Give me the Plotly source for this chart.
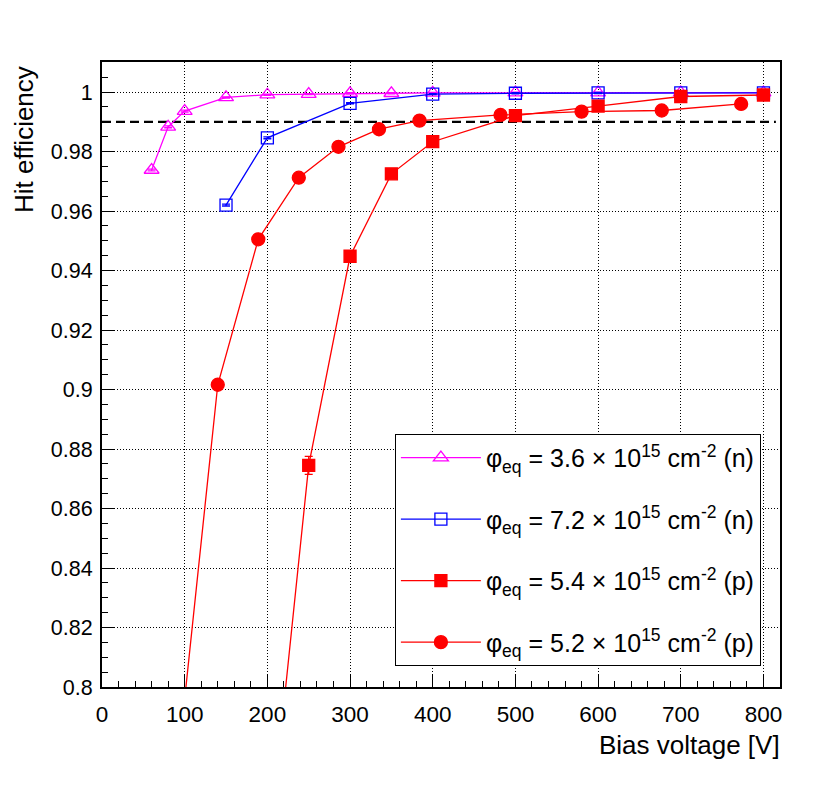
import plotly.graph_objects as go

# ---- data ----
v_n36 = [60, 80, 100, 150, 200, 250, 300, 350, 400, 500, 600, 700, 800]
e_n36 = [0.9738, 0.9883, 0.9936, 0.9982, 0.9991, 0.9993, 0.9996, 0.9996, 0.9997, 0.9998, 0.9998, 0.9998, 0.9998]
err_n36 = [0.0003, 0.0003, 0.0003, 0.0002, 0.0002, 0.0002, 0.0002, 0.0002, 0.0002, 0.0002, 0.0002, 0.0002, 0.0002]

v_n72 = [150, 200, 300, 400, 500, 600, 700, 800]
e_n72 = [0.9620, 0.9846, 0.9962, 0.9993, 0.9996, 0.9997, 0.9997, 0.9997]
err_n72 = [0.0003, 0.0003, 0.0002, 0.0002, 0.0002, 0.0002, 0.0002, 0.0002]

v_p54 = [200, 250, 300, 350, 400, 500, 600, 700, 800]
e_p54 = [0.7407, 0.8745, 0.9448, 0.9725, 0.9833, 0.9921, 0.9953, 0.9985, 0.9990]
err_p54 = [0.003, 0.003, 0.0015, 0.001, 0.001, 0.0005, 0.0005, 0.0005, 0.0005]

v_p52 = [91, 140, 189, 238, 286, 335, 384, 482, 580, 677, 773]
e_p52 = [0.7723, 0.9016, 0.9505, 0.9712, 0.9816, 0.9875, 0.9904, 0.9923, 0.9934, 0.9938, 0.9960]
err_p52 = [0.002, 0.0015, 0.001, 0.001, 0.0005, 0.0005, 0.0005, 0.0005, 0.0005, 0.0005, 0.0005]

threshold_x = [0, 815]
threshold_y = [0.99, 0.99]

labels = [
    "φ<sub>eq</sub> = 3.6 × 10<sup>15</sup> cm<sup>-2</sup> (n)",
    "φ<sub>eq</sub> = 7.2 × 10<sup>15</sup> cm<sup>-2</sup> (n)",
    "φ<sub>eq</sub> = 5.4 × 10<sup>15</sup> cm<sup>-2</sup> (p)",
    "φ<sub>eq</sub> = 5.2 × 10<sup>15</sup> cm<sup>-2</sup> (p)",
]

FONT = "Liberation Sans, Arial, Helvetica, sans-serif"

fig = go.Figure()

fig.add_trace(go.Scatter(
    x=threshold_x, y=threshold_y, mode="lines", showlegend=False,
    line=dict(color="black", width=2.2, dash="9px,5px"), hoverinfo="skip"))

series = [
    (v_n36, e_n36, err_n36, "#FF00FF", "triangle-up-open", 13),
    (v_n72, e_n72, err_n72, "#0000FF", "square-open", 12),
    (v_p54, e_p54, err_p54, "#FF0000", "square", 12),
    (v_p52, e_p52, err_p52, "#FF0000", "circle", 13),
]
for i, (vx, vy, ve, col, sym, sz) in enumerate(series):
    fig.add_trace(go.Scatter(
        x=vx, y=vy, mode="lines+markers", name=labels[i], legendgroup=f"g{i}",
        line=dict(color=col, width=1.3),
        marker=dict(symbol=sym, size=sz, color=col, line=dict(color=col, width=1.3)),
        error_y=dict(type="data", array=ve, color=col, thickness=1.3, width=4),
        cliponaxis=True,
    ))

fig.update_layout(
    width=822, height=790,
    margin=dict(l=94, r=50, t=54, b=111),
    paper_bgcolor="white", plot_bgcolor="white",
    font=dict(family=FONT, size=22, color="black"),
    showlegend=True,
    legend=dict(
        x=0.432, y=0.405, xanchor="left", yanchor="top",
        bordercolor="black", borderwidth=1, bgcolor="white",
        font=dict(family=FONT, size=25, color="black"),
        itemwidth=80, tracegroupgap=26,
    ),
    xaxis=dict(
        range=[0, 820], dtick=100, tick0=0,
        ticks="inside", ticklen=12, tickwidth=1, tickcolor="black",
        minor=dict(dtick=20, ticks="inside", ticklen=6, tickcolor="black", showgrid=False),
        showgrid=True, gridcolor="black", gridwidth=1, griddash="1px,2px",
        showline=True, linecolor="black", linewidth=2, mirror=True,
        zeroline=False, tickfont=dict(size=22.5), ticklabelstandoff=6,
    ),
    yaxis=dict(
        range=[0.8, 1.0101], dtick=0.02, tick0=0.8,
        ticks="inside", ticklen=12, tickwidth=1, tickcolor="black",
        minor=dict(dtick=0.005, ticks="inside", ticklen=6, tickcolor="black", showgrid=False),
        showgrid=True, gridcolor="black", gridwidth=1, griddash="1px,2px",
        showline=True, linecolor="black", linewidth=2, mirror=True,
        zeroline=False, tickfont=dict(size=21.5), ticklabelstandoff=3,
    ),
    annotations=[
        dict(text="Bias voltage [V]", xref="paper", yref="paper", x=1.003, y=-0.0928,
             xanchor="right", yanchor="middle", showarrow=False, font=dict(size=26)),
        dict(text="Hit efficiency", xref="paper", yref="paper", x=-0.114, y=0.997,
             xanchor="center", yanchor="top", textangle=-90, showarrow=False, font=dict(size=26)),
    ],
)

fig.write_html("out.html")
